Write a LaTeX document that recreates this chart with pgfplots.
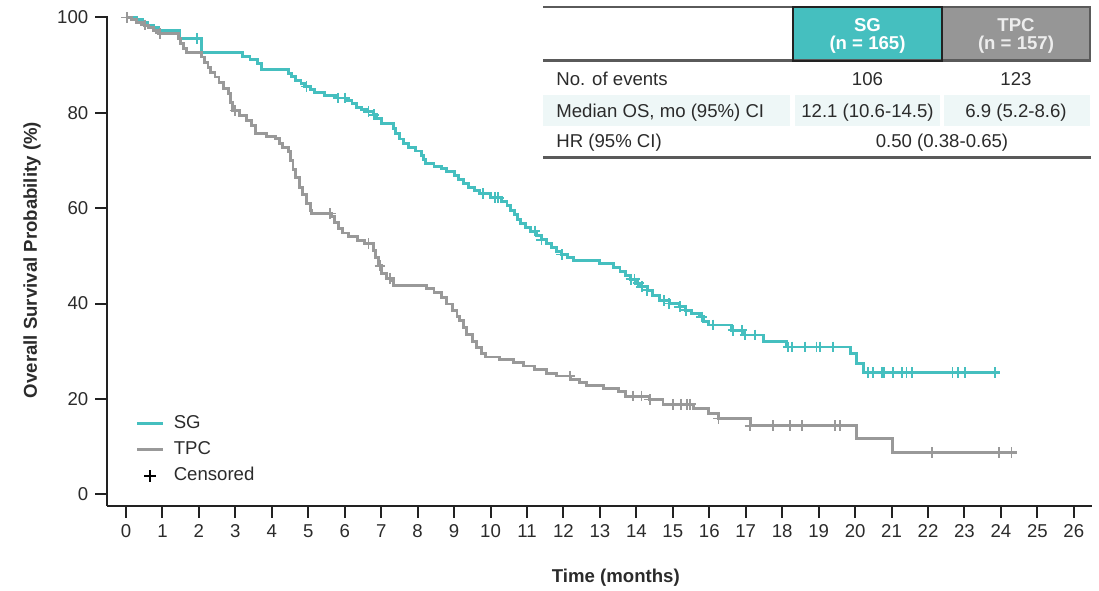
\documentclass[border=0pt]{standalone}
\usepackage{fontspec}
\setmainfont{Liberation Sans}
\usepackage{pgfplots}
\usepackage{pgfplotstable}
\pgfplotsset{compat=1.18}
\definecolor{sgc}{HTML}{45BFBF}
\definecolor{tpcc}{HTML}{999999}
\definecolor{txt}{HTML}{2B2B2B}
\definecolor{axc}{HTML}{222222}
\definecolor{tint}{HTML}{EEF7F7}
\definecolor{hgray}{HTML}{969696}
\definecolor{rulec}{HTML}{5A5A5A}
\pgfplotsset{censlegend/.style={legend image code/.code={\draw[##1] (6.5pt,-3pt) -- (6.5pt,3pt) (3.5pt,0pt) -- (9.5pt,0pt);}}}

\pgfplotstableread{
t v
0 100
0.3 99.6
0.45 99.0
0.6 98.4
0.75 97.9
0.89 97.3
1.48 95.5
2.07 92.7
3.2 91.9
3.4 91.1
3.6 90.3
3.72 89.0
4.45 88.3
4.55 87.6
4.65 86.8
4.8 86.2
4.9 85.5
5.05 84.9
5.18 84.3
5.45 83.7
5.75 83.1
6.05 82.6
6.2 81.9
6.32 81.2
6.45 80.6
6.6 80.2
6.78 79.6
6.88 78.8
7.0 77.7
7.33 76.7
7.4 75.6
7.5 74.5
7.6 73.5
7.75 72.8
7.95 72.0
8.1 71.1
8.17 70.2
8.22 69.3
8.45 68.8
8.65 68.3
8.8 67.7
9.0 66.9
9.12 66.0
9.25 65.2
9.4 64.4
9.55 63.7
9.7 63.0
10.0 62.2
10.3 61.4
10.45 60.6
10.55 59.6
10.65 58.6
10.75 57.7
10.82 56.8
10.95 56.0
11.1 55.2
11.25 54.3
11.4 53.4
11.54 52.6
11.68 51.8
11.82 51.0
11.95 50.3
12.1 49.6
12.27 49.1
13.0 48.4
13.37 47.5
13.55 46.8
13.69 45.9
13.85 45.1
13.98 44.3
14.12 43.5
14.3 42.8
14.45 41.7
14.64 40.6
14.9 40.0
15.19 39.3
15.35 38.6
15.5 37.9
15.74 37.2
15.85 36.3
15.97 35.5
16.62 34.4
16.94 33.4
17.49 32.1
18.13 30.9
19.87 29.5
20.05 27.4
20.23 25.5
23.97 25.5
}\sgdata

\pgfplotstableread{
t v
1.94 95.5
4.95 85.5
5.82 83.1
6.0 83.1
6.65 80.2
6.8 79.6
9.8 63.0
10.12 62.2
10.21 62.2
11.22 55.2
11.4 53.4
11.95 50.3
13.85 45.1
13.95 45.1
14.05 44.3
14.15 43.5
14.3 42.8
14.75 40.6
14.9 40.0
15.19 39.3
15.37 38.6
15.79 37.2
16.11 35.5
16.66 34.4
16.89 34.4
16.98 33.4
17.25 33.4
18.17 30.9
18.26 30.9
18.62 30.9
18.94 30.9
19.03 30.9
19.4 30.9
20.36 25.5
20.48 25.5
20.73 25.5
20.79 25.5
21.03 25.5
21.29 25.5
21.41 25.5
21.57 25.5
22.67 25.5
22.83 25.5
23.01 25.5
23.83 25.5
}\sgcens

\pgfplotstableread{
t v
0 100
0.15 99.6
0.3 99.0
0.5 98.4
0.62 97.8
0.75 97.2
0.89 96.7
1.43 95.6
1.5 94.5
1.58 93.5
1.66 92.7
2.07 91.7
2.15 90.6
2.25 89.5
2.33 88.5
2.44 87.5
2.55 86.3
2.68 85.1
2.81 84.0
2.87 82.2
2.93 80.5
3.12 79.5
3.3 78.4
3.45 77.4
3.54 75.6
3.85 75.0
4.09 74.6
4.2 73.6
4.3 72.7
4.45 71.8
4.52 70.0
4.58 68.2
4.65 66.5
4.75 64.4
4.85 62.8
4.95 61.0
5.05 59.5
5.09 58.9
5.64 58.2
5.72 57.0
5.82 55.8
5.95 54.8
6.1 54.0
6.35 53.3
6.55 52.6
6.78 51.2
6.85 49.6
6.92 47.9
7.01 46.3
7.15 45.3
7.25 44.9
7.33 43.8
8.24 43.1
8.45 42.4
8.65 41.2
8.8 39.9
8.95 38.6
9.08 37.3
9.16 36.5
9.25 35.0
9.35 33.6
9.5 32.1
9.62 30.8
9.75 29.6
9.85 28.8
10.25 28.2
10.63 27.7
10.9 26.9
11.2 26.2
11.54 25.4
11.8 24.8
12.2 24.1
12.45 23.5
12.64 22.9
13.1 22.2
13.5 21.5
13.69 20.6
14.37 19.9
14.73 18.9
15.56 18.0
15.97 17.0
16.25 15.9
17.12 14.4
20.05 11.7
21.03 8.7
24.43 8.7
}\tpcdata

\pgfplotstableread{
t v
0.02 100
0.52 98.4
0.93 96.7
2.99 80.5
5.6 58.9
6.65 52.6
6.97 47.9
7.24 45.3
12.18 24.8
13.9 20.6
14.14 20.6
14.37 19.9
15.0 18.9
15.23 18.9
15.39 18.9
15.48 18.9
16.25 15.9
17.12 14.4
17.74 14.4
18.22 14.4
18.54 14.4
19.44 14.4
19.58 14.4
22.12 8.7
23.95 8.7
24.29 8.7
}\tpccens

\begin{document}
\begin{tikzpicture}
\begin{axis}[
  at={(53.65pt,42.15pt)}, anchor=south west,
  scale only axis, width=492.2pt, height=244.85pt,
  xmin=-0.513, xmax=26.49, ymin=-2.39, ymax=100.3,
  clip=false,
  axis lines*=left,
  axis line style={line width=1pt, color=axc},
  xtick={0,1,...,26}, ytick={0,20,...,100},
  tick align=outside, major tick length=6pt,
  tick style={line width=1pt, color=axc},
  /pgf/number format/assume math mode=true,
  ticklabel style={font=\fontsize{9.3}{11}\selectfont, text=txt},
  xlabel={\textbf{Time (months)}},
  ylabel={\textbf{Overall Survival Probability (\%)}},
  label style={font=\fontsize{9.3}{11}\selectfont, text=txt},
  xlabel style={at={(axis description cs:0.5166,-0.1476)}, anchor=center},
  ylabel style={at={(axis description cs:-0.0765,0.5017)}, anchor=center},
  legend style={at={(axis cs:0.26,16.9)}, anchor=north west, draw=none, fill=none,
    font=\fontsize{9.3}{11}\selectfont, text=txt, row sep=3.8pt, inner sep=0pt,
    nodes={inner sep=0pt, text height=7pt, text depth=2.3pt},
    /tikz/every odd column/.append style={column sep=4.5pt}},
  legend image code/.code={\draw[#1] (0pt,0pt) -- (13pt,0pt);},
  legend cell align=left,
]
\addplot[const plot, sgc, line width=1.45pt, forget plot] table[x=t,y=v] {\sgdata};
\addplot[const plot, tpcc, line width=1.45pt, forget plot] table[x=t,y=v] {\tpcdata};
\addplot[only marks, mark=+, sgc, mark size=2.7pt, mark options={line width=0.9pt}, forget plot] table[x=t,y=v] {\sgcens};
\addplot[only marks, mark=+, tpcc, mark size=2.7pt, mark options={line width=0.9pt}, forget plot] table[x=t,y=v] {\tpccens};
\addlegendimage{sgc, line width=1.45pt}
\addlegendentry{SG}
\addlegendimage{tpcc, line width=1.45pt}
\addlegendentry{TPC}
\addlegendimage{black, line width=0.9pt, censlegend}
\addlegendentry{Censored}
\end{axis}
\begin{scope}[shift={(0pt,295pt)}, x=0.5pt, y=-0.5pt]
  \fill[tint] (543,95) rectangle (790,126);
  \fill[tint] (795,95) rectangle (940,126);
  \fill[tint] (944,95) rectangle (1090,126);
  \fill[sgc] (793,7) rectangle (942,61);
  \fill[hgray] (942,7) rectangle (1090,61);
  \draw[rulec, line width=1.2pt] (543,7) -- (1091,7);
  \draw[rulec, line width=1.5pt] (543,61) -- (1091,61);
  \draw[rulec, line width=1pt] (1090,7) -- (1090,61);
  \draw[axc, line width=1pt] (793,7) rectangle (942,61);
  \draw[rulec, line width=1.5pt] (543,158) -- (1091,158);
  \begin{scope}[every node/.style={font=\fontsize{9.3}{11}\selectfont, text=txt, inner sep=0pt}]
    \node[anchor=base, text=white, font=\fontsize{9.3}{11}\selectfont\bfseries] at (867.5,31.5) {SG};
    \node[anchor=base, text=white, font=\fontsize{9.3}{11}\selectfont\bfseries] at (867.5,50) {(n = 165)};
    \node[anchor=base, text=white!93!black, font=\fontsize{9.3}{11}\selectfont\bfseries] at (1016,31.5) {TPC};
    \node[anchor=base, text=white!93!black, font=\fontsize{9.3}{11}\selectfont\bfseries] at (1016,50) {(n = 157)};
    \node[anchor=base west] at (556,86) {No. of events};
    \node[anchor=base] at (867.5,86) {106};
    \node[anchor=base] at (1016,86) {123};
    \node[anchor=base west] at (556,117.5) {Median OS, mo (95\%) CI};
    \node[anchor=base] at (867.5,117.5) {12.1 (10.6-14.5)};
    \node[anchor=base] at (1016,117.5) {6.9 (5.2-8.6)};
    \node[anchor=base west] at (556,148) {HR (95\% CI)};
    \node[anchor=base] at (942,148) {0.50 (0.38-0.65)};
  \end{scope}
\end{scope}
\pgfresetboundingbox
\path[use as bounding box] (0pt,0pt) rectangle (549.5pt,295pt);
\end{tikzpicture}
\end{document}
